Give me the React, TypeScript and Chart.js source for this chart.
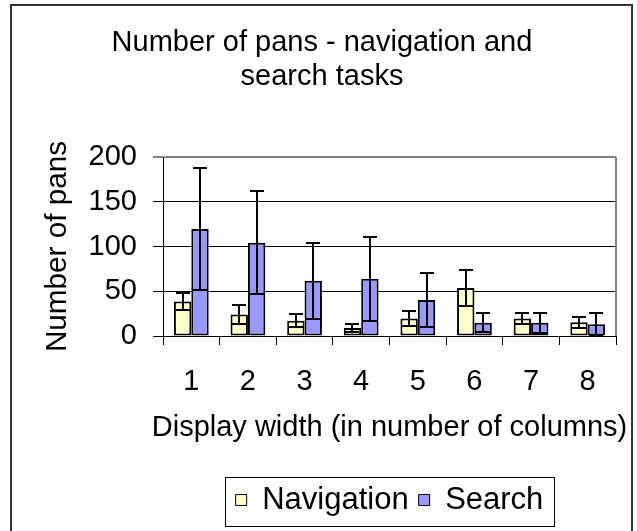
import React, { useEffect, useRef } from 'react';
import { Chart, registerables } from 'chart.js';

Chart.register(...registerables);

// ---- data ----
const categories = ['1', '2', '3', '4', '5', '6', '7', '8'];
const navigationMeans = [38.5, 24, 17, 9, 19.5, 53.5, 19.5, 15.3];
const navigationErrors = [9.3, 10.6, 7.4, 4, 8.6, 20.3, 6, 6];
const searchMeans = [119.5, 104.3, 61.8, 64, 40.2, 14.9, 14.9, 13];
const searchErrors = [68, 57.5, 42.6, 47, 29.8, 10.6, 11, 12.3];
const yTicks = [0, 50, 100, 150, 200];

const titleLines = ['Number of pans - navigation and', 'search tasks'];
const xTitle = 'Display width (in number of columns)';
const yTitle = 'Number of pans';

const FONT = '"Liberation Sans", Arial, Helvetica, sans-serif';

const errorBarPlugin = {
  id: 'errorBars',
  afterDatasetsDraw(chart: any) {
    const ctx = chart.ctx;
    const yScale = chart.scales.y;
    ctx.save();
    ctx.strokeStyle = '#000000';
    ctx.lineWidth = 2;
    chart.data.datasets.forEach((ds: any, di: number) => {
      const meta = chart.getDatasetMeta(di);
      if (meta.hidden) return;
      meta.data.forEach((bar: any, i: number) => {
        const v = ds.data[i];
        const e = ds.errors[i];
        const x = Math.round(bar.x);
        const yTop = Math.round(yScale.getPixelForValue(v + e));
        const yBot = Math.round(yScale.getPixelForValue(Math.max(0, v - e)));
        const half = 7;
        ctx.beginPath();
        ctx.moveTo(x, yTop);
        ctx.lineTo(x, yBot);
        ctx.moveTo(x - half, yTop);
        ctx.lineTo(x + half, yTop);
        ctx.moveTo(x - half, yBot);
        ctx.lineTo(x + half, yBot);
        ctx.stroke();
      });
    });
    ctx.restore();
  },
};

// x-axis title drawn without Chart.js' maxWidth squeeze (the original text
// is wider than the plot area)
const xTitlePlugin = {
  id: 'xTitleFree',
  afterDraw(chart: any) {
    const ctx = chart.ctx;
    const xScale = chart.scales.x;
    ctx.save();
    ctx.fillStyle = '#000000';
    ctx.font = `normal 29px ${FONT}`;
    ctx.textAlign = 'center';
    ctx.textBaseline = 'middle';
    const cx = (xScale.left + xScale.right) / 2;
    const cy = xScale.bottom - 47;
    ctx.fillText(xTitle, cx, cy);
    ctx.restore();
  },
};

const framePlugin = {
  id: 'frames',
  afterDraw(chart: any) {
    const ctx = chart.ctx;
    const area = chart.chartArea;
    ctx.save();
    // plot area right border (grey)
    ctx.strokeStyle = '#808080';
    ctx.lineWidth = 2;
    ctx.beginPath();
    ctx.moveTo(Math.round(area.right), Math.round(area.top));
    ctx.lineTo(Math.round(area.right), Math.round(area.bottom));
    ctx.stroke();
    // outer chart frame
    ctx.strokeStyle = '#333333';
    ctx.lineWidth = 2;
    ctx.beginPath();
    ctx.moveTo(11, 545);
    ctx.lineTo(11, 5);
    ctx.lineTo(632, 5);
    ctx.lineTo(632, 545);
    ctx.stroke();
    // legend frame
    const lg = chart.legend;
    if (lg && lg.legendHitBoxes && lg.legendHitBoxes.length) {
      const hb = lg.legendHitBoxes;
      let l = Infinity;
      let r = -Infinity;
      hb.forEach((h: any) => {
        l = Math.min(l, h.left);
        r = Math.max(r, h.left + h.width);
      });
      const left = Math.round(l - 11) + 0.5;
      const right = Math.round(r + 11) + 0.5;
      const top = Math.round(lg.top + 2.5) + 0.5;
      const bottom = Math.round(lg.bottom) + 0.5;
      ctx.strokeStyle = '#000000';
      ctx.lineWidth = 1;
      ctx.strokeRect(left, top, right - left, bottom - top);
    }
    ctx.restore();
  },
};

export default function App() {
  const canvasRef = useRef<HTMLCanvasElement | null>(null);

  useEffect(() => {
    if (!canvasRef.current) return;
    Chart.defaults.font.family = FONT;
    Chart.defaults.color = '#000000';
    const chart = new Chart(canvasRef.current, {
      type: 'bar',
      data: {
        labels: categories,
        datasets: [
          {
            label: 'Navigation',
            data: navigationMeans,
            errors: navigationErrors,
            backgroundColor: '#FFFFCC',
            borderColor: '#000000',
            borderWidth: 2,
            borderSkipped: false,
            categoryPercentage: 0.614,
            barPercentage: 1.0,
          } as any,
          {
            label: 'Search',
            data: searchMeans,
            errors: searchErrors,
            backgroundColor: '#9999FF',
            borderColor: '#000000',
            borderWidth: 2,
            borderSkipped: false,
            categoryPercentage: 0.614,
            barPercentage: 1.0,
          } as any,
        ],
      },
      options: {
        responsive: false,
        animation: false,
        events: [],
        layout: { padding: { top: 0, left: 28, right: 21, bottom: 5.5 } },
        plugins: {
          tooltip: { enabled: false },
          title: {
            display: true,
            text: titleLines,
            color: '#000000',
            font: { size: 29, weight: 'normal', family: FONT, lineHeight: 34 / 29 },
            padding: { top: 26, bottom: 63 },
          },
          legend: {
            display: true,
            position: 'bottom',
            fullSize: false,
            labels: {
              boxWidth: 11,
              boxHeight: 11,
              padding: 10,
              color: '#000000',
              font: { size: 31, family: FONT },
              generateLabels: (chart: any) => {
                const items = Chart.defaults.plugins.legend.labels.generateLabels(chart);
                return items.map((it: any) => ({ ...it, lineWidth: 1 }));
              },
            },
          },
        },
        scales: {
          x: {
            afterFit: (scale: any) => {
              scale.height = 138.5;
            },
            grid: {
              offset: true,
              drawOnChartArea: false,
              drawTicks: true,
              tickLength: 9,
              color: '#000000',
            },
            border: { display: true, color: '#000000', width: 1 },
            ticks: {
              padding: 20,
              maxRotation: 0,
              color: '#000000',
              font: { size: 29, family: FONT },
            },
            title: { display: false },
          },
          y: {
            min: yTicks[0],
            max: yTicks[yTicks.length - 1],
            afterFit: (scale: any) => {
              scale.width = 135;
            },
            afterBuildTicks: (scale: any) => {
              scale.ticks = yTicks.map((v) => ({ value: v }));
            },
            grid: {
              drawTicks: true,
              tickLength: 10,
              color: (c: any) => (c.tick && c.tick.value === yTicks[yTicks.length - 1] ? '#808080' : '#000000'),
              lineWidth: (c: any) => (c.tick && c.tick.value === yTicks[yTicks.length - 1] ? 2 : 1),
            },
            border: { display: true, color: '#000000', width: 1 },
            ticks: {
              padding: 16,
              color: '#000000',
              font: { size: 29, family: FONT },
            },
            title: {
              display: true,
              text: yTitle,
              color: '#000000',
              font: { size: 29.7, family: FONT },
              padding: { top: 11.7, bottom: 0 },
            },
          },
        },
      },
      plugins: [errorBarPlugin, xTitlePlugin, framePlugin],
    } as any);
    return () => chart.destroy();
  }, []);

  return (
    <div style={{ position: 'absolute', left: 0, top: 0, width: 637, height: 531, background: '#ffffff' }}>
      <canvas ref={canvasRef} width={637} height={531} style={{ display: 'block' }} />
    </div>
  );
}
